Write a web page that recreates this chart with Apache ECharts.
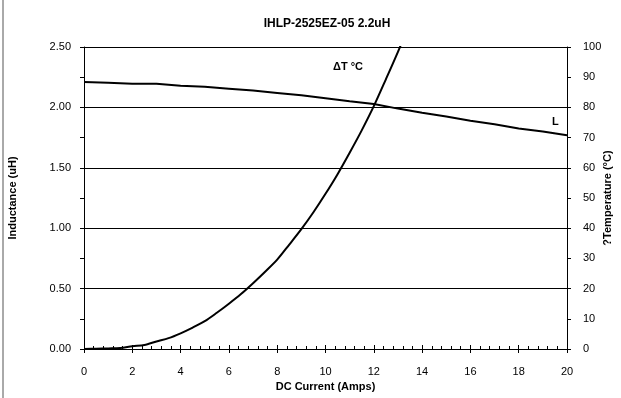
<!DOCTYPE html>
<html>
<head>
<meta charset="utf-8">
<script src="https://cdn.jsdelivr.net/npm/echarts@6/dist/echarts.min.js"></script>
<style>
html, body { margin: 0; padding: 0; background: #fff; }
#chart { width: 621px; height: 398px; }
</style>
</head>
<body>
<div id="chart"></div>
<script>
// 数据
var currentL = [0, 1, 2, 3, 4, 5, 6, 7, 8, 9, 10, 11, 12, 13, 14, 15, 16, 17, 18, 19, 20];
var inductance = [2.21, 2.205, 2.195, 2.195, 2.18, 2.17, 2.155, 2.14, 2.12, 2.10, 2.075, 2.05, 2.028, 1.99, 1.955, 1.925, 1.89, 1.86, 1.825, 1.80, 1.77];

var currentT = [0, 0.5, 1, 1.5, 2, 2.5, 3, 3.5, 4, 4.5, 5, 5.5, 6, 6.5, 7, 7.5, 8, 8.5, 9, 9.5, 10, 10.5, 11, 11.5, 12, 12.5, 13, 13.5];
var tempRise = [0, 0.1, 0.2, 0.3, 0.9, 1.3, 2.5, 3.6, 5.2, 7.1, 9.2, 12.0, 15.0, 18.2, 21.8, 25.6, 29.6, 34.6, 39.7, 45.3, 51.4, 57.9, 65.0, 72.4, 80.4, 89.3, 98.4, 108];

var xTicks = [0, 20, 2];
var leftTicks = [0, 2.5, 0.5];
var rightTicks = [0, 100, 10];

function pairs(xs, ys) {
    var out = [];
    for (var i = 0; i < xs.length; i++) out.push([xs[i], ys[i]]);
    return out;
}

var font = 'Liberation Sans, Arial, sans-serif';
var myChart = echarts.init(document.getElementById('chart'));

// 两个重叠的grid: 第二个只画朝内的刻度
var gridBox = { left: 84, right: 54, top: 47, bottom: 49, containLabel: false, outerBoundsMode: 'none' };

var option = {
    backgroundColor: '#fff',
    animation: false,
    title: {
        text: 'IHLP-2525EZ-05 2.2uH',
        left: 322,
        top: 13,
        textAlign: 'center',
        textStyle: { fontFamily: font, fontSize: 12, fontWeight: 'bold', color: '#000' }
    },
    grid: [gridBox, Object.assign({}, gridBox)],
    xAxis: [
        {
            type: 'value',
            gridIndex: 0,
            min: xTicks[0], max: xTicks[1], interval: xTicks[2],
            position: 'bottom',
            name: 'DC Current (Amps)',
            nameLocation: 'middle',
            nameGap: 32,
            nameMoveOverlap: false,
            nameTextStyle: { fontFamily: font, fontSize: 11, fontWeight: 'bold', color: '#000' },
            axisLine: { show: true, lineStyle: { color: '#000', width: 1 } },
            axisTick: { show: true, inside: false, length: 4, lineStyle: { color: '#000' } },
            axisLabel: { margin: 17, fontFamily: font, fontSize: 11, color: '#000' },
            splitLine: { show: false }
        },
        {
            type: 'value',
            gridIndex: 1,
            min: xTicks[0], max: xTicks[1], interval: xTicks[2],
            position: 'bottom',
            axisLine: { show: false },
            axisTick: { show: true, inside: true, length: 4, lineStyle: { color: '#000' } },
            minorTick: { show: true, splitNumber: 5, length: 3, lineStyle: { color: '#000' } },
            axisLabel: { show: false },
            splitLine: { show: false }
        }
    ],
    yAxis: [
        {
            type: 'value',
            gridIndex: 0,
            min: leftTicks[0], max: leftTicks[1], interval: leftTicks[2],
            position: 'left',
            name: 'Inductance (uH)',
            nameLocation: 'middle',
            nameRotate: 90,
            nameGap: 66,
            nameMoveOverlap: false,
            nameTextStyle: { fontFamily: font, fontSize: 11, fontWeight: 'bold', color: '#000' },
            axisLine: { show: true, lineStyle: { color: '#000', width: 1 } },
            axisTick: { show: true, inside: false, length: 4, lineStyle: { color: '#000' } },
            axisLabel: {
                margin: 13, fontFamily: font, fontSize: 11, color: '#000',
                formatter: function (v) { return v.toFixed(2); }
            },
            splitLine: { show: true, lineStyle: { color: '#000', width: 1 } }
        },
        {
            type: 'value',
            gridIndex: 0,
            min: rightTicks[0], max: rightTicks[1], interval: rightTicks[2],
            position: 'right',
            name: '?Temperature (°C)',
            nameLocation: 'middle',
            nameRotate: 90,
            nameGap: 35,
            nameMoveOverlap: false,
            nameTextStyle: { fontFamily: font, fontSize: 11, fontWeight: 'bold', color: '#000' },
            axisLine: { show: true, lineStyle: { color: '#000', width: 1 } },
            axisTick: { show: true, inside: false, length: 4, lineStyle: { color: '#000' } },
            axisLabel: { margin: 16, fontFamily: font, fontSize: 11, color: '#000' },
            splitLine: { show: false }
        },
        {
            type: 'value',
            gridIndex: 1,
            min: rightTicks[0], max: rightTicks[1], interval: rightTicks[2],
            position: 'right',
            axisLine: { show: false },
            axisTick: { show: true, inside: true, length: 4, lineStyle: { color: '#000' } },
            axisLabel: { show: false },
            splitLine: { show: false }
        }
    ],
    graphic: [
        {
            type: 'line',
            shape: { x1: 3, y1: 0, x2: 3, y2: 398 },
            style: { stroke: '#555', lineWidth: 1 }
        },
        {
            type: 'text', left: 333, top: 61,
            style: { text: 'ΔT °C', font: 'bold 11px ' + font, fill: '#000' }
        },
        {
            type: 'text', left: 552, top: 116,
            style: { text: 'L', font: 'bold 11px ' + font, fill: '#000' }
        }
    ],
    series: [
        {
            name: 'L',
            type: 'line',
            xAxisIndex: 0,
            yAxisIndex: 0,
            showSymbol: false,
            lineStyle: { color: '#000', width: 2 },
            data: pairs(currentL, inductance)
        },
        {
            name: 'ΔT',
            type: 'line',
            xAxisIndex: 0,
            yAxisIndex: 1,
            showSymbol: false,
            smooth: 0.3,
            clip: true,
            lineStyle: { color: '#000', width: 2 },
            data: pairs(currentT, tempRise)
        }
    ]
};
myChart.setOption(option);
</script>
</body>
</html>
